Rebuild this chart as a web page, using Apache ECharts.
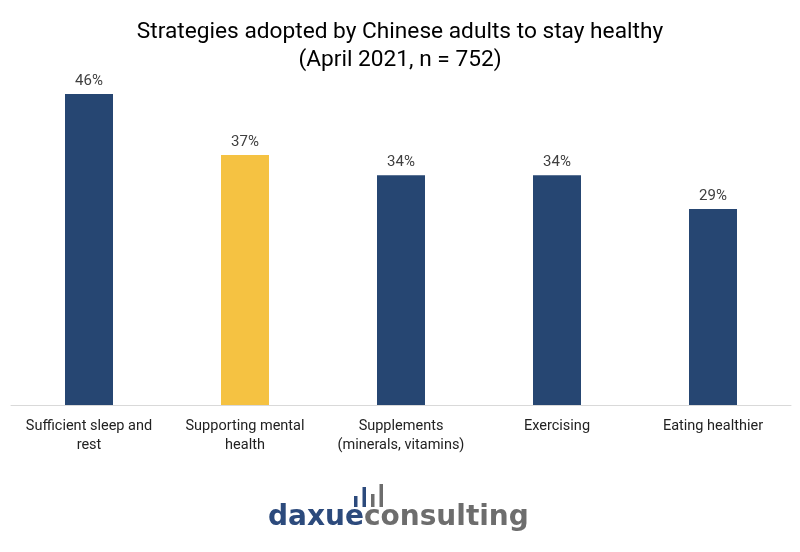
<!DOCTYPE html>
<html><head><meta charset="utf-8">
<script src="https://cdn.jsdelivr.net/npm/echarts@6/dist/echarts.min.js"></script>
<style>html,body{margin:0;padding:0;background:#fff}#c{width:800px;height:552px}</style>
</head><body><div id="c"></div>
<script>
const categories = ['Sufficient sleep and\nrest', 'Supporting mental\nhealth', 'Supplements\n(minerals, vitamins)', 'Exercising', 'Eating healthier'];
const values = [46, 37, 34, 34, 29];
const barColors = ['#264672', '#F5C242', '#264672', '#264672', '#264672'];

const chart = echarts.init(document.getElementById('c'));
chart.setOption({
  backgroundColor: '#fff',
  title: {
    text: 'Strategies adopted by Chinese adults to stay healthy\n(April 2021, n = 752)',
    left: 'center', top: 13,
    textStyle: { fontFamily: 'Roboto', fontSize: 22.7, fontWeight: 'normal', color: '#000', lineHeight: 28 }
  },
  grid: { left: 11, right: 9, top: 67, bottom: 147, containLabel: false },
  xAxis: {
    type: 'category', data: categories,
    axisLine: { lineStyle: { color: '#d9d9d9', width: 1 } },
    axisTick: { show: false },
    axisLabel: { interval: 0, fontFamily: 'Roboto', fontSize: 14.5, color: '#222', lineHeight: 19, margin: 12 }
  },
  yAxis: { type: 'value', min: 0, max: 50, show: false, splitLine: { show: false } },
  series: [{
    type: 'bar', barWidth: 48,
    data: values.map((v, i) => ({ value: v, itemStyle: { color: barColors[i] } })),
    label: { show: true, position: 'top', distance: 5, formatter: '{c}%', fontFamily: 'Roboto', fontSize: 15, color: '#404040' }
  }],
  graphic: [
    { type: 'rect', shape: { x: 354, y: 496, width: 3.5, height: 11 }, style: { fill: '#2c4a7c' } },
    { type: 'rect', shape: { x: 362.5, y: 487, width: 3.5, height: 20 }, style: { fill: '#2c4a7c' } },
    { type: 'rect', shape: { x: 371, y: 494, width: 3.5, height: 13 }, style: { fill: '#6d6d6d' } },
    { type: 'rect', shape: { x: 379.5, y: 484, width: 3.5, height: 23 }, style: { fill: '#6d6d6d' } },
    { type: 'text', left: 268, top: 504, style: {
      text: '{a|daxue}{b|consulting}',
      rich: {
        a: { fontFamily: 'DejaVu Sans', fontWeight: 'bold', fontSize: 28, fill: '#2c4a7c' },
        b: { fontFamily: 'DejaVu Sans', fontWeight: 'bold', fontSize: 28, fill: '#6d6d6d' }
      }
    } }
  ]
});
</script></body></html>
